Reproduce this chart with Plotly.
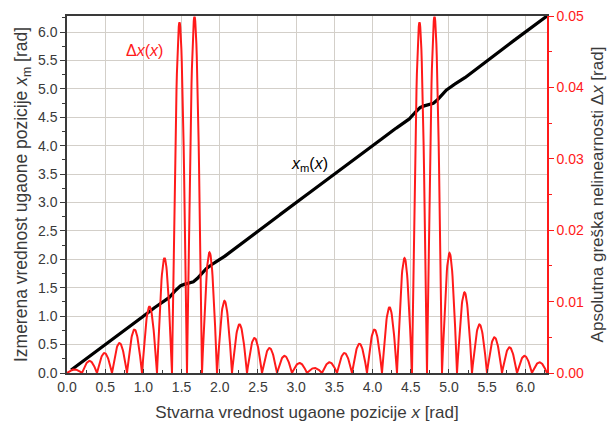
import numpy as np
import plotly.graph_objects as go

# ---- data ----
# zeros of the nonlinearity error are spaced pi/16 apart; peak of each lobe (rad)
lobe_step = np.pi / 16
dx_lobe_peaks = [
    0.0005, 0.0017, 0.0028, 0.0042, 0.0061, 0.0093, 0.0161, 0.0491,
    0.0499, 0.0169, 0.0101, 0.0068, 0.0049, 0.0035, 0.0024, 0.0014,
    0.0007, 0.0015, 0.0028, 0.0041, 0.0061, 0.0092, 0.0161, 0.0491,
    0.0499, 0.0168, 0.0113, 0.0068, 0.0050, 0.0036, 0.0024, 0.0015,
]
# sign of the (signed) error in each lobe: positive before pi/2 and 3pi/2 peaks
dx_lobe_sign = [(-1) ** (k + 1) for k in range(len(dx_lobe_peaks))]

x_ticks = [0.0, 0.5, 1.0, 1.5, 2.0, 2.5, 3.0, 3.5, 4.0, 4.5, 5.0, 5.5, 6.0]
y_ticks = [0.0, 0.5, 1.0, 1.5, 2.0, 2.5, 3.0, 3.5, 4.0, 4.5, 5.0, 5.5, 6.0]
y2_ticks = [0.00, 0.01, 0.02, 0.03, 0.04, 0.05]

label_dx = "Δ<i>x</i>(<i>x</i>)"
label_xm = "<i>x</i><sub>m</sub>(<i>x</i>)"
title_x = "Stvarna vrednost ugaone pozicije <i>x</i> [rad]"
title_y = "Izmerena vrednost ugaone pozicije <i>x</i><sub>m</sub> [rad]"
title_y2 = "Apsolutna greška nelinearnosti Δ<i>x</i> [rad]"

# ---- build curves (arch-shaped lobes between zeros) ----
n = 40
xs, dxs, es = [], [], []
for k, (p, s) in enumerate(zip(dx_lobe_peaks, dx_lobe_sign)):
    t = np.linspace(0, 1, n, endpoint=(k == len(dx_lobe_peaks) - 1))
    arch = p * np.sin(np.pi * t)
    xs.append(k * lobe_step + t * lobe_step)
    dxs.append(arch)
    es.append(s * arch)
x = np.concatenate(xs)
dx = np.concatenate(dxs)
xm = x + np.concatenate(es)
mask = x >= 0.05

RED = "#ff1a1a"
GRAY = "#3a3a3a"
FONT = "Liberation Sans, Arial, sans-serif"

fig = go.Figure()
fig.add_trace(go.Scatter(x=x, y=dx, mode="lines", yaxis="y2",
                         line=dict(color=RED, width=2.0), showlegend=False))
fig.add_trace(go.Scatter(x=x[mask], y=xm[mask], mode="lines",
                         line=dict(color="black", width=3.2), showlegend=False))

fig.add_annotation(x=1.01, y=5.68, xref="x", yref="y", text=label_dx,
                   showarrow=False, font=dict(color=RED, size=16, family=FONT))
fig.add_annotation(x=3.18, y=3.67, xref="x", yref="y", text=label_xm,
                   showarrow=False, font=dict(color="black", size=16, family=FONT))

GRID = "#d3cfc9"
fig.update_layout(
    width=608, height=427,
    margin=dict(l=67, r=61, t=16, b=54),
    paper_bgcolor="white", plot_bgcolor="white",
    font=dict(family=FONT, color=GRAY, size=14),
    xaxis=dict(
        range=[0, 2 * np.pi], tickvals=x_ticks, ticktext=[f"{v:.1f}" for v in x_ticks],
        showgrid=True, gridcolor=GRID, gridwidth=1,
        showline=True, linecolor=GRAY, linewidth=1.5, mirror=True,
        ticks="inside", ticklen=4, tickcolor=GRAY,
        minor=dict(dtick=0.25, tick0=0, ticks="inside", ticklen=3, tickcolor=GRAY, showgrid=False),
        tickfont=dict(size=14, color=GRAY),
        title=dict(text=title_x, font=dict(size=17, color=GRAY), standoff=13),
        zeroline=False, automargin=False,
    ),
    yaxis=dict(
        range=[0, 2 * np.pi], tickvals=y_ticks, ticktext=[f"{v:.1f}" for v in y_ticks],
        showgrid=True, gridcolor=GRID, gridwidth=1,
        showline=True, linecolor=GRAY, linewidth=1.5,
        ticks="outside", ticklen=5, tickcolor=GRAY,
        minor=dict(dtick=0.25, tick0=0, ticks="outside", ticklen=3, tickcolor=GRAY, showgrid=False),
        tickfont=dict(size=14, color=GRAY),
        title=dict(text=title_y, font=dict(size=17.5, color=GRAY), standoff=6),
        zeroline=False, automargin=False,
    ),
    yaxis2=dict(
        overlaying="y", side="right", range=[0, 0.05],
        tickvals=y2_ticks, ticktext=[f"{v:.2f}" for v in y2_ticks],
        showgrid=False, showline=True, linecolor=RED, linewidth=1.5,
        ticks="outside", ticklen=5, tickcolor=RED,
        minor=dict(dtick=0.005, tick0=0, ticks="outside", ticklen=3, tickcolor=RED),
        tickfont=dict(size=14, color=RED),
        title=dict(text=title_y2, font=dict(size=17, color=GRAY), standoff=8),
        zeroline=False, automargin=False,
    ),
)

fig.write_html("out.html", config={"displayModeBar": False},
               post_script="document.body.style.margin='0';")
